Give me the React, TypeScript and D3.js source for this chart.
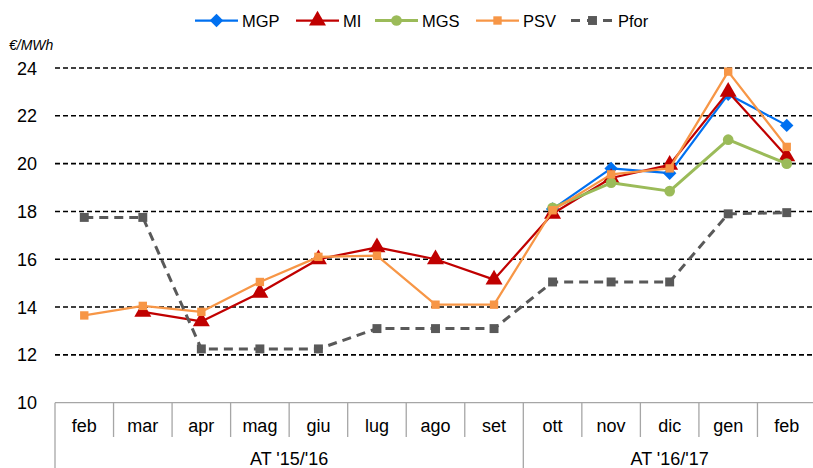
import React, { useEffect, useRef } from 'react';
import * as d3 from 'd3';

// --- Data ---
const months = ['feb', 'mar', 'apr', 'mag', 'giu', 'lug', 'ago', 'set', 'ott', 'nov', 'dic', 'gen', 'feb'];
const groups = [
  { label: "AT '15/'16", from: 0, to: 8 },
  { label: "AT '16/'17", from: 8, to: 13 },
];
const yTicks = [10, 12, 14, 16, 18, 20, 22, 24];

const mgp = [null, null, null, null, null, null, null, null, 18.1, 19.8, 19.6, 22.9, 21.6];
const mi = [null, 13.8, 13.4, 14.6, 16.0, 16.5, 16.0, 15.15, 17.9, 19.4, 19.95, 23.0, 20.3];
const mgs = [null, null, null, null, null, null, null, null, 18.15, 19.2, 18.85, 21.0, 20.0];
const psv = [13.65, 14.05, 13.8, 15.05, 16.1, 16.15, 14.1, 14.1, 18.05, 19.55, 19.8, 23.85, 20.7];
const pfor = [17.75, 17.75, 12.25, 12.25, 12.25, 13.1, 13.1, 13.1, 15.05, 15.05, 15.05, 17.9, 17.95];

type Series = {
  name: string;
  values: (number | null)[];
  color: string;
  width: number;
  dash?: string;
  marker: 'diamond' | 'triangle' | 'circle' | 'square';
  msize: number;
};

const series: Series[] = [
  { name: 'MGP', values: mgp, color: '#0070F0', width: 2.25, marker: 'diamond', msize: 90 },
  { name: 'MI', values: mi, color: '#C00000', width: 2.25, marker: 'triangle', msize: 125 },
  { name: 'MGS', values: mgs, color: '#9BBB59', width: 3, marker: 'circle', msize: 90 },
  { name: 'PSV', values: psv, color: '#F79646', width: 2.25, marker: 'square', msize: 70 },
  { name: 'Pfor', values: pfor, color: '#595959', width: 3, dash: '9,6', marker: 'square', msize: 80 },
];

const FONT = '"Liberation Sans", Arial, sans-serif';

const App: React.FC = () => {
  const svgRef = useRef<SVGSVGElement | null>(null);

  useEffect(() => {
    document.body.style.margin = '0';
    if (!svgRef.current) return;

    const width = 813;
    const height = 468;
    const svg = d3.select(svgRef.current);
    svg.selectAll('*').remove();

    const x = d3.scaleBand<number>().domain(d3.range(months.length)).range([55, 816]);
    const y = d3.scaleLinear().domain([10, 24]).range([402.7, 68]);
    const cx = (i: number) => (x(i) as number) + x.bandwidth() / 2;

    const g = svg.append('g');

    // --- Grid lines (dashed, black) ---
    g.selectAll('.grid').data(yTicks.filter(t => t > 10)).enter().append('line')
      .attr('x1', 55).attr('x2', width)
      .attr('y1', d => y(d)).attr('y2', d => y(d))
      .attr('stroke', '#000').attr('stroke-width', 1.6).attr('stroke-dasharray', '5,3');

    // Y labels
    g.selectAll('.ylab').data(yTicks).enter().append('text')
      .attr('x', 37).attr('y', d => y(d) + 6.5)
      .attr('text-anchor', 'end').attr('font-family', FONT).attr('font-size', 18).attr('fill', '#000')
      .text(d => d);

    g.append('text').attr('x', 9).attr('y', 50)
      .attr('font-family', FONT).attr('font-size', 14).attr('font-style', 'italic').attr('fill', '#000')
      .text('€/MWh');

    // --- Category axis box ---
    const axisColor = '#A6A6A6';
    const bottom = y(10);
    g.append('line').attr('x1', 55).attr('x2', width).attr('y1', bottom).attr('y2', bottom)
      .attr('stroke', axisColor).attr('stroke-width', 1.3);
    const groupEdges = new Set(groups.map(gr => gr.from));
    g.selectAll('.div').data(d3.range(months.length)).enter().append('line')
      .attr('x1', d => x(d) as number).attr('x2', d => x(d) as number)
      .attr('y1', bottom).attr('y2', d => (groupEdges.has(d) ? height : 437))
      .attr('stroke', axisColor).attr('stroke-width', 1.3);

    g.selectAll('.xlab').data(months).enter().append('text')
      .attr('x', (_d, i) => cx(i)).attr('y', 432)
      .attr('text-anchor', 'middle').attr('font-family', FONT).attr('font-size', 18).attr('fill', '#000')
      .text(d => d);

    g.selectAll('.glab').data(groups).enter().append('text')
      .attr('x', d => ((x(d.from) as number) + (x(d.to - 1) as number) + x.bandwidth()) / 2)
      .attr('y', 465)
      .attr('text-anchor', 'middle').attr('font-family', FONT).attr('font-size', 18).attr('fill', '#000')
      .text(d => d.label);

    // --- Series ---
    const symbolOf = (m: Series['marker']) =>
      m === 'triangle' ? d3.symbolTriangle : m === 'circle' ? d3.symbolCircle : d3.symbolSquare;

    const drawMarker = (sel: d3.Selection<any, any, any, any>, s: Series, px: number, py: number) => {
      sel.append('path')
        .attr('d', d3.symbol().type(symbolOf(s.marker)).size(s.msize)())
        .attr('transform', `translate(${px},${py})${s.marker === 'diamond' ? ' rotate(45)' : ''}`)
        .attr('fill', s.color);
    };

    series.forEach(s => {
      const pts = s.values.map((v, i) => ({ i, v })).filter(p => p.v !== null) as { i: number; v: number }[];
      const line = d3.line<{ i: number; v: number }>().x(p => cx(p.i)).y(p => y(p.v));
      g.append('path').datum(pts).attr('d', line)
        .attr('fill', 'none').attr('stroke', s.color).attr('stroke-width', s.width)
        .attr('stroke-linejoin', 'round')
        .attr('stroke-dasharray', s.dash ?? null);
      pts.forEach(p => drawMarker(g, s, cx(p.i), y(p.v)));
    });

    // --- Legend ---
    const legendX = [195, 296, 375, 476, 571];
    const ly = 20.5;
    series.forEach((s, k) => {
      const x0 = legendX[k];
      const lg = g.append('g');
      lg.append('line').attr('x1', x0).attr('x2', x0 + 43).attr('y1', ly).attr('y2', ly)
        .attr('stroke', s.color).attr('stroke-width', s.width)
        .attr('stroke-dasharray', s.dash ? '9,7' : null);
      drawMarker(lg, s, x0 + 21.5, ly);
      lg.append('text').attr('x', x0 + 47).attr('y', ly + 6)
        .attr('font-family', FONT).attr('font-size', 16.5).attr('fill', '#000')
        .text(s.name);
    });
  }, []);

  return <svg ref={svgRef} width={813} height={468} style={{ display: 'block', overflow: 'hidden' }} />;
};

export default App;
